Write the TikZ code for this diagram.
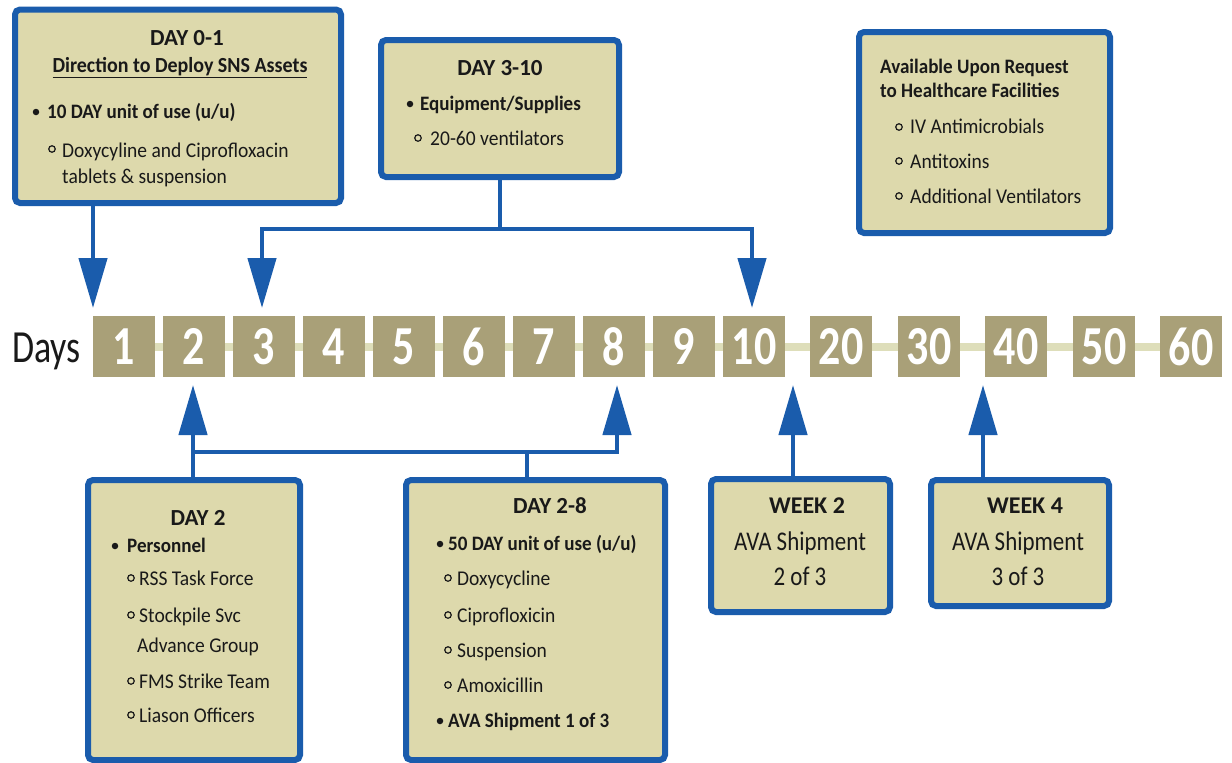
\documentclass[tikz,border=0pt]{standalone}
\usepackage{fontspec}
\setmainfont{Carlito}
\newfontfamily\bodyfam[FakeStretch=0.93]{Carlito}
\newfontfamily\numfam[FakeStretch=0.8]{Carlito}
\newfontfamily\daysfam[FakeStretch=0.78]{Carlito}
\newfontfamily\wkfam[FakeStretch=0.85]{Carlito}
\usetikzlibrary{arrows.meta}
\definecolor{bblue}{RGB}{26,92,172}
\definecolor{bfill}{RGB}{221,217,172}
\definecolor{sqc}{RGB}{169,160,120}
\definecolor{tlc}{RGB}{222,222,186}
\definecolor{tcol}{RGB}{25,25,25}
\newcommand{\bodyf}{\bodyfam\fontsize{21}{24}\selectfont}
\newcommand{\bodybf}{\bodyfam\fontsize{20.5}{24}\selectfont\bfseries}
\newcommand{\ttlf}{\fontsize{23}{27}\selectfont\bfseries}
\newcommand{\wkf}{\wkfam\fontsize{27}{30}\selectfont}
\newcommand{\wkbf}{\fontsize{24}{28}\selectfont\bfseries}
\newcommand{\numf}{\numfam\fontsize{55}{60}\selectfont\bfseries}
\newcommand{\daysf}{\daysfam\fontsize{46}{50}\selectfont}
\tikzset{
  box/.style={draw=bblue, line width=6pt, fill=bfill, rounded corners=5pt, inner sep=0pt},
  sq/.style={fill=sqc, minimum width=62pt, minimum height=61pt, inner sep=0pt, text=white, font=\numf},
  txt/.style={inner sep=0pt, anchor=base west, font=\bodyf, text=tcol},
  txtb/.style={txt, font=\bodybf},
  ttl/.style={inner sep=0pt, anchor=base, font=\ttlf, text=tcol},
  ttlb/.style={inner sep=0pt, anchor=base, font=\bodyfam\fontsize{21.5}{24}\selectfont\bfseries, text=tcol},
  wk/.style={inner sep=0pt, anchor=base, font=\wkf, text=tcol},
  wkb/.style={wk, font=\wkbf},
  conn/.style={draw=bblue, line width=4.5pt},
  arr/.style={conn, -{Triangle[width=28pt,length=50pt]}},
  bul/.style={fill=tcol, circle, inner sep=0pt, minimum size=6.5pt},
  cir/.style={draw=tcol, circle, inner sep=0pt, minimum size=6.5pt, line width=1.2pt}
}
\begin{document}
\begin{tikzpicture}[x=1pt,y=-1pt]
\useasboundingbox[fill=white] (0,0) rectangle (1232,763);

% timeline
\coordinate (tl0) at (124,346.5);
\coordinate (tl1) at (1191,346.5);
\draw[draw=tlc, line width=8pt] (tl0) -- (tl1);
\node[inner sep=0pt, anchor=base west, font=\daysf, text=tcol] (days) at (12,362) {Days};
\foreach \i in {1,...,10} {
  \node[sq] (d\i) at ({124+70*(\i-1)},346.5) {\i};
}
\foreach \i/\x in {20/841,30/929,40/1016,50/1104,60/1191} {
  \node[sq] (d\i) at (\x,346.5) {\i};
}

% boxes
\node[box, minimum width=326pt, minimum height=193.5pt] (b01) at (178,106.25) {};
\node[box, minimum width=238pt, minimum height=137pt] (b310) at (500,108.5) {};
\node[box, minimum width=251pt, minimum height=201pt] (bav) at (984.5,132.5) {};
\node[box, minimum width=212pt, minimum height=280pt] (b2) at (194,620) {};
\node[box, minimum width=259pt, minimum height=280pt] (b28) at (535.5,620) {};
\node[box, minimum width=179pt, minimum height=133pt] (bw2) at (800.5,545.5) {};
\node[box, minimum width=178pt, minimum height=126pt] (bw4) at (1020,543) {};

% connectors
\coordinate (t1) at (93,308);
\draw[arr] (b01.south -| t1) -- (t1);
\coordinate (j310) at (500,229);
\coordinate (t3) at (262,308);
\coordinate (t10) at (752,308);
\draw[conn] (b310.south) -- (j310);
\draw[arr] (j310) -| (t3);
\draw[arr] (j310) -| (t10);
\coordinate (t2) at (193,385);
\coordinate (j2) at (193,452);
\coordinate (t8) at (617,385);
\coordinate (j28) at (527,452);
\draw[arr] (b2.north -| t2) -- (t2);
\draw[arr] (j2) -| (t8);
\draw[conn] (b28.north -| j28) -- (j28);
\coordinate (tw2) at (793,385);
\draw[arr] (bw2.north -| tw2) -- (tw2);
\coordinate (tw4) at (983,385);
\draw[arr] (bw4.north -| tw4) -- (tw4);

% Day 0-1
\node[ttl] (h01) at (187,45) {DAY 0-1};
\node[ttlb] (s01) at (180,72) {\underline{Direction to Deploy SNS Assets}};
\node[bul] (p01a) at (36,112) {};
\node[txtb] (l01a) at (47,118) {10 DAY unit of use (u/u)};
\node[cir] (p01b) at (52,149) {};
\node[txt] (l01b) at (62,157) {Doxycyline and Ciprofloxacin};
\node[txt] (l01c) at (62,183) {tablets \& suspension};

% Day 3-10
\node[ttl] (h310) at (500,75) {DAY 3-10};
\node[bul] (p310a) at (410,104) {};
\node[txtb] (l310a) at (420,110) {Equipment/Supplies};
\node[cir] (p310b) at (418,138) {};
\node[txt] (l310b) at (430,145) {20-60 ventilators};

% Available
\node[txtb] (lava) at (880,73) {Available Upon Request};
\node[txtb] (lavb) at (880,97) {to Healthcare Facilities};
\node[cir] (pavc) at (899,127) {};
\node[txt] (lavc) at (910,133) {IV Antimicrobials};
\node[cir] (pavd) at (899,161) {};
\node[txt] (lavd) at (910,168) {Antitoxins};
\node[cir] (pave) at (899,196) {};
\node[txt] (lave) at (910,203) {Additional Ventilators};

% Day 2
\node[ttl] (h2) at (198,525) {DAY 2};
\node[bul] (p2a) at (115,546) {};
\node[txtb] (l2a) at (127,552) {Personnel};
\node[cir] (p2b) at (131,578) {};
\node[txt] (l2b) at (139,585) {RSS Task Force};
\node[cir] (p2c) at (131,615) {};
\node[txt] (l2c) at (139,622) {Stockpile Svc};
\node[txt] (l2d) at (137,652) {Advance Group};
\node[cir] (p2e) at (131,681) {};
\node[txt] (l2e) at (139,688) {FMS Strike Team};
\node[cir] (p2f) at (131,715) {};
\node[txt] (l2f) at (139,722) {Liason Officers};

% Day 2-8
\node[ttl] (h28) at (550,513) {DAY 2-8};
\node[bul] (p28a) at (440,544) {};
\node[txtb] (l28a) at (448,550) {50 DAY unit of use (u/u)};
\node[cir] (p28b) at (448,578) {};
\node[txt] (l28b) at (457,585) {Doxycycline};
\node[cir] (p28c) at (448,615) {};
\node[txt] (l28c) at (457,622) {Ciprofloxicin};
\node[cir] (p28d) at (448,650) {};
\node[txt] (l28d) at (457,657) {Suspension};
\node[cir] (p28e) at (448,685) {};
\node[txt] (l28e) at (457,692) {Amoxicillin};
\node[bul] (p28f) at (440,721) {};
\node[txtb] (l28f) at (448,727) {AVA Shipment 1 of 3};

% Week 2
\node[wkb] (hw2) at (807,513) {WEEK 2};
\node[wk] (lw2a) at (800,550) {AVA Shipment};
\node[wk] (lw2b) at (800,585) {2 of 3};

% Week 4
\node[wkb] (hw4) at (1025,513) {WEEK 4};
\node[wk] (lw4a) at (1018,550) {AVA Shipment};
\node[wk] (lw4b) at (1018,585) {3 of 3};
\end{tikzpicture}
\end{document}
